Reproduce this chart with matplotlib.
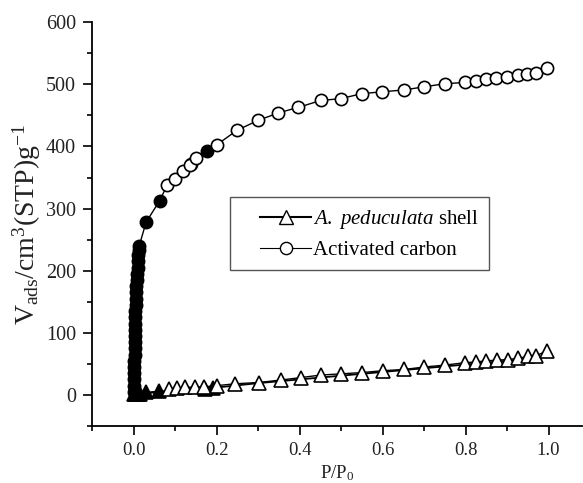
import matplotlib
matplotlib.use("Agg")
import matplotlib.pyplot as plt
from matplotlib.ticker import MultipleLocator
from matplotlib.lines import Line2D
from matplotlib.legend_handler import HandlerLine2D

plt.rcParams['font.family'] = ['Liberation Serif', 'DejaVu Serif']
plt.rcParams['mathtext.fontset'] = 'custom'
plt.rcParams['mathtext.rm'] = 'Liberation Serif'
plt.rcParams['mathtext.it'] = 'Liberation Serif:italic'

# ---------------- data ----------------
# Activated carbon – dense low-pressure band (filled)
ac_band_x = [0.001, 0.0012, 0.0014, 0.0016, 0.0018, 0.002, 0.0022, 0.0025, 0.0028,
             0.003, 0.0033, 0.0036, 0.004, 0.0045, 0.005, 0.0055, 0.006, 0.0068,
             0.0075, 0.0085, 0.0095, 0.0105, 0.0115, 0.0125, 0.0135]
ac_band_y = [5, 15, 25, 35, 45, 55, 65, 75, 85, 95, 105, 115, 125, 135, 145, 155,
             165, 175, 185, 195, 205, 215, 225, 233, 240]
# Activated carbon – visible filled (desorption) points
ac_des_x = [0.030, 0.063, 0.139, 0.176]
ac_des_y = [278, 313, 371, 392]
# Activated carbon – open (adsorption) points
ac_ads_x = [0.081, 0.099, 0.119, 0.137, 0.151, 0.201, 0.249, 0.300, 0.349, 0.397,
            0.451, 0.499, 0.550, 0.599, 0.652, 0.700, 0.750, 0.798, 0.824, 0.849,
            0.874, 0.900, 0.926, 0.949, 0.969, 0.995]
ac_ads_y = [338, 348, 360, 370, 381, 403, 426, 442, 454, 463,
            474, 477, 485, 488, 491, 496, 501, 503, 506, 508,
            510, 512, 515, 517, 519, 526]

# A. peduculata shell – open (adsorption) triangles
sh_ads_x = [0.085, 0.105, 0.125, 0.149, 0.169, 0.201, 0.245, 0.301, 0.355, 0.403,
            0.451, 0.500, 0.550, 0.600, 0.652, 0.700, 0.750, 0.798, 0.825, 0.850,
            0.876, 0.902, 0.927, 0.950, 0.970, 0.995]
sh_ads_y = [10, 11, 12, 13, 13, 15, 18, 20, 24, 28,
            32, 34, 36, 39, 41, 45, 48, 52, 53, 55,
            56, 57, 59, 62, 63, 71]
# A. peduculata shell – desorption line
sh_des_x = [0.995, 0.9, 0.8, 0.7, 0.6, 0.5, 0.4, 0.3, 0.2, 0.1, 0.05, 0.02, 0.005, 0.001]
sh_des_y = [62, 55, 49, 43, 37, 31, 25, 19, 12, 7, 4, 2, 1, 0]
# A. peduculata shell – visible filled triangles
sh_fill_x = [0.001, 0.004, 0.008, 0.012, 0.016, 0.029, 0.061, 0.173, 0.191]
sh_fill_y = [1, 1, 1, 2, 2, 4, 6, 10, 11]

x_ticks = [0.0, 0.2, 0.4, 0.6, 0.8, 1.0]
x_ticklabels = ['0.0', '0.2', '0.4', '0.6', '0.8', '1.0']
legend_labels = [r'$\it{A.\ peduculata}$ shell', 'Activated carbon']

# ---------------- figure ----------------
fig = plt.figure(figsize=(5.83, 4.83), dpi=100)
ax = fig.add_axes([0.158, 0.118, 0.840, 0.836])

ms_c = 8.8
ms_t = 9.5
mew = 1.2

# carbon connecting line
line_x = ac_band_x + [ac_des_x[0], ac_des_x[1]] + ac_ads_x[:4] + [ac_des_x[2]] + ac_ads_x[4:5] + [ac_des_x[3]] + ac_ads_x[5:]
line_y = ac_band_y + [ac_des_y[0], ac_des_y[1]] + ac_ads_y[:4] + [ac_des_y[2]] + ac_ads_y[4:5] + [ac_des_y[3]] + ac_ads_y[5:]
ax.plot(line_x, line_y, '-', color='black', lw=1.0, zorder=2)
ax.plot(ac_band_x + ac_des_x, ac_band_y + ac_des_y, 'o', ls='none', ms=ms_c,
        mfc='black', mec='black', mew=mew, zorder=3)
ax.plot(ac_ads_x, ac_ads_y, 'o', ls='none', ms=ms_c, mfc='white', mec='black',
        mew=mew, zorder=4)

# shell
ax.plot(sh_des_x, sh_des_y, '-', color='black', lw=1.3, zorder=2)
ax.plot(sh_fill_x + sh_ads_x[:1], sh_fill_y + sh_ads_y[:1], '-', color='black', lw=1.0, zorder=2)
ax.plot(sh_ads_x, sh_ads_y, '-', color='black', lw=1.0, zorder=2)
ax.plot(sh_fill_x, sh_fill_y, '^', ls='none', ms=ms_t, mfc='black', mec='black',
        mew=mew, zorder=3)
ax.plot(sh_ads_x, sh_ads_y, '^', ls='none', ms=ms_t, mfc='white', mec='black',
        mew=mew, zorder=4)

# axes styling
ax.set_xlim(-0.1, 1.08)
ax.set_ylim(-50, 600)
ax.spines['top'].set_visible(False)
ax.spines['right'].set_visible(False)
for s in ('left', 'bottom'):
    ax.spines[s].set_linewidth(1.3)
ax.xaxis.set_major_locator(MultipleLocator(0.2))
ax.xaxis.set_minor_locator(MultipleLocator(0.1))
ax.yaxis.set_major_locator(MultipleLocator(100))
ax.yaxis.set_minor_locator(MultipleLocator(50))
ax.tick_params(which='major', direction='out', length=6.5, width=1.2,
               colors='black', labelcolor='#222222', pad=5)
ax.tick_params(axis='x', which='major', labelsize=13.5)
ax.tick_params(axis='y', which='major', labelsize=14.5)
ax.tick_params(which='minor', direction='out', length=3.5, width=1.2)
ax.set_xticks(x_ticks)
ax.set_xticklabels(x_ticklabels)

ax.set_xlabel(r'P/P$_0$', fontsize=13.5, labelpad=3, color='#222222')
ax.set_ylabel(r'V$_{\rm ads}$/cm$^3$(STP)g$^{-1}$', fontsize=20, labelpad=2,
              color='#222222')

handles = [
    Line2D([], [], color='black', lw=1.5, marker='^', ms=ms_t, mfc='white',
           mec='black', mew=1.0),
    Line2D([], [], color='black', lw=0.8, marker='o', ms=ms_c, mfc='white',
           mec='black', mew=1.0),
]
hm = {h: HandlerLine2D(xpad=0.95) for h in handles}
leg = ax.legend(handles, legend_labels, loc='upper left', bbox_to_anchor=(0.282, 0.566),
                fontsize=15, frameon=True, fancybox=False, edgecolor='#555555',
                framealpha=1, handlelength=3.4, handletextpad=0.05,
                borderpad=0.5, labelspacing=0.45, borderaxespad=0,
                handler_map=hm)
leg.get_frame().set_linewidth(1.0)

fig.savefig('out.png', dpi=100)
